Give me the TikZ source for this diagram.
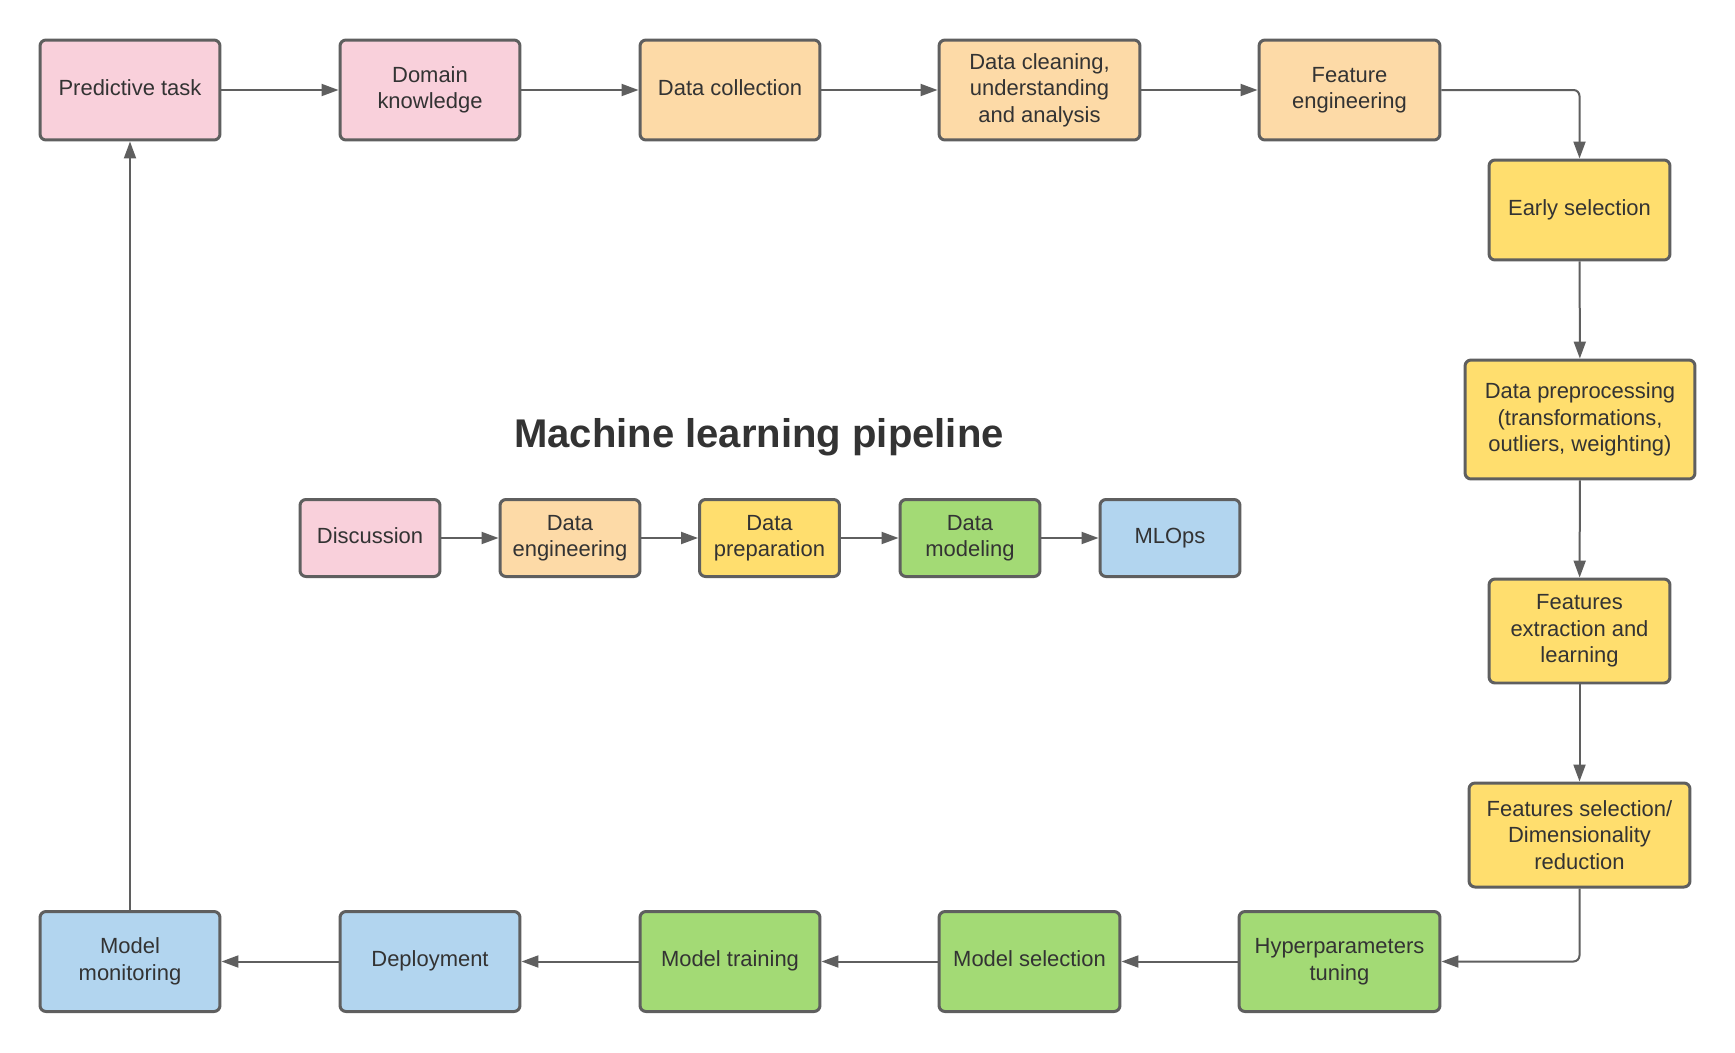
\documentclass[tikz,border=0pt]{standalone}
\usepackage{fontspec}
\setmainfont{Liberation Sans}
\usetikzlibrary{arrows.meta}

\definecolor{pinkfill}{HTML}{F9D0DB}
\definecolor{orangefill}{HTML}{FDDAA7}
\definecolor{yellowfill}{HTML}{FFDE6E}
\definecolor{greenfill}{HTML}{A3DA75}
\definecolor{bluefill}{HTML}{B2D5EF}
\definecolor{edgecol}{HTML}{5F5F5F}
\definecolor{linecol}{HTML}{5F5F5F}
\definecolor{textcol}{HTML}{333333}

\tikzset{
  box/.style={draw=edgecol, line width=0.06cm, rounded corners=0.12cm,
    align=center, inner sep=0pt, text=textcol,
    font=\fontsize{12.5pt}{15.1pt}\selectfont},
  % single-line labels sit on a strut so they are placed like the multi-line ones
  oneline/.style={execute at begin node=\strut},
  wide/.style={minimum width=3.6cm, minimum height=2cm},
  small/.style={minimum width=2.8cm, minimum height=1.54cm},
  pinkbox/.style={box, fill=pinkfill},
  orangebox/.style={box, fill=orangefill},
  yellowbox/.style={box, fill=yellowfill},
  greenbox/.style={box, fill=greenfill},
  bluebox/.style={box, fill=bluefill},
  conn/.style={draw=linecol, line width=0.04cm,
    -{Triangle[length=0.34cm, width=0.24cm]}},
}

\begin{document}
\begin{tikzpicture}[x=0.02cm, y=-0.02cm]
  % canvas
  \fill[white] (0,0) rectangle (1735,1052);
  \useasboundingbox (0,0) rectangle (1735,1052);

  % top row
  \node[pinkbox, wide, oneline] (pt) at (130,90) {Predictive task};
  \node[pinkbox, wide] (dk) at (430,90) {Domain\\knowledge};
  \node[orangebox, wide, oneline] (dc) at (730,90) {Data collection};
  \node[orangebox, wide, minimum width=4.02cm] (dcl) at (1039.5,90) {Data cleaning,\\understanding\\and analysis};
  \node[orangebox, wide, minimum width=3.62cm] (fe) at (1349.5,90) {Feature\\engineering};

  % right column
  \node[yellowbox, oneline, minimum width=3.62cm, minimum height=2cm] (es) at (1579.5,210) {Early selection};
  \node[yellowbox, minimum width=4.6cm, minimum height=2.38cm] (dp) at (1580,419.5) {Data preprocessing\\(transformations,\\outliers, weighting)};
  \node[yellowbox, minimum width=3.62cm, minimum height=2.08cm] (fx) at (1579.5,631) {Features\\extraction and\\learning};
  \node[yellowbox, minimum width=4.42cm, minimum height=2.08cm] (fs) at (1579.5,835) {Features selection/\\Dimensionality\\reduction};

  % bottom row
  \node[greenbox, wide, minimum width=4.02cm] (ht) at (1339.5,961.5) {Hyperparameters\\tuning};
  \node[greenbox, wide, oneline, minimum width=3.62cm] (ms) at (1029.5,961.5) {Model selection};
  \node[greenbox, wide, oneline] (mt) at (730,961.5) {Model training};
  \node[bluebox, wide, oneline] (dep) at (430,961.5) {Deployment};
  \node[bluebox, wide] (mm) at (130,961.5) {Model\\monitoring};

  % title and legend
  \node[text=textcol, font=\fontsize{22.8pt}{27pt}\selectfont\bfseries] (title) at (759,437.5) {Machine learning pipeline};
  \node[pinkbox, small, oneline] (disc) at (370,538) {Discussion};
  \node[orangebox, small] (deng) at (570,538) {Data\\engineering};
  \node[yellowbox, small] (dprep) at (769.5,538) {Data\\preparation};
  \node[greenbox, small] (dmod) at (970,538) {Data\\modeling};
  \node[bluebox, small, oneline] (mlops) at (1170,538) {MLOps};

  % connectors
  \draw[conn] (pt) -- (dk);
  \draw[conn] (dk) -- (dc);
  \draw[conn] (dc) -- (dcl);
  \draw[conn] (dcl) -- (fe);
  \draw[conn, rounded corners=0.12cm] (fe.east) -| (es.north);
  \draw[conn] (es) -- (dp);
  \draw[conn] (dp) -- (fx);
  \draw[conn] (fx) -- (fs);
  \draw[conn, rounded corners=0.12cm] (fs.south) |- (ht.east);
  \draw[conn] (ht) -- (ms);
  \draw[conn] (ms) -- (mt);
  \draw[conn] (mt) -- (dep);
  \draw[conn] (dep) -- (mm);
  \draw[conn] (mm) -- (pt);

  \draw[conn] (disc) -- (deng);
  \draw[conn] (deng) -- (dprep);
  \draw[conn] (dprep) -- (dmod);
  \draw[conn] (dmod) -- (mlops);
\end{tikzpicture}
\end{document}
